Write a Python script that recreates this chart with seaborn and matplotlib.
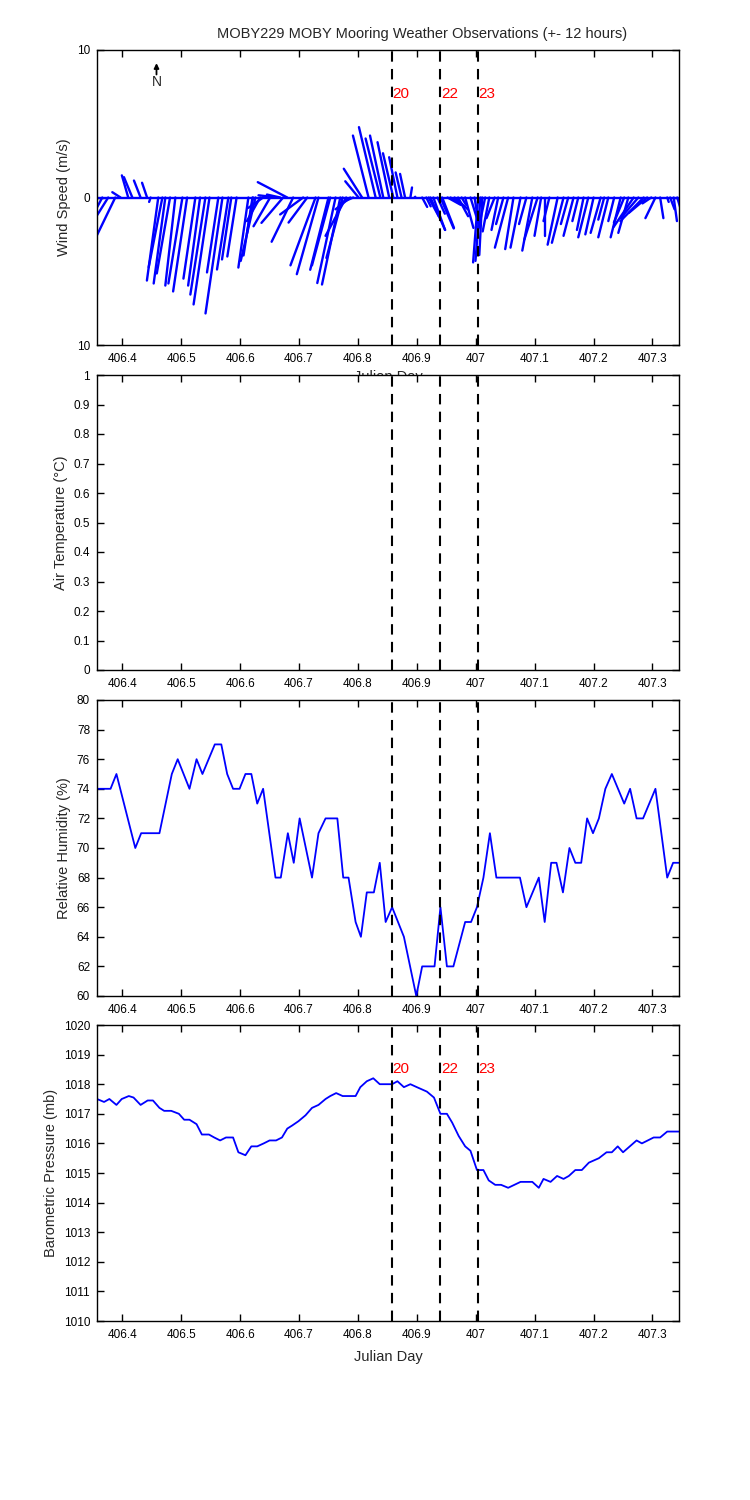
import numpy as np
import pandas as pd
import matplotlib
matplotlib.use("Agg")
import matplotlib.pyplot as plt
from matplotlib.ticker import FuncFormatter
import seaborn as sns

# ---------------- data ----------------
wind_time = [406.366, 406.376, 406.388, 406.397, 406.410, 406.417, 406.431, 406.442, 406.448,
             406.461, 406.468, 406.473, 406.481, 406.490, 406.502, 406.510, 406.524, 406.532,
             406.541, 406.548, 406.563, 406.570, 406.580, 406.585, 406.594, 406.614, 406.621,
             406.622, 406.626, 406.634, 406.639, 406.651, 406.663, 406.668, 406.673, 406.680,
             406.690, 406.707, 406.714, 406.728, 406.733, 406.750, 406.753, 406.762, 406.770,
             406.774, 406.780, 406.787, 406.792, 406.801, 406.807, 406.818, 406.830, 406.838,
             406.843, 406.853, 406.860, 406.867, 406.874, 406.880, 406.889, 406.896, 406.909,
             406.916, 406.920, 406.923, 406.928, 406.935, 406.940, 406.943, 406.952, 406.957,
             406.964, 406.970, 406.976, 406.982, 406.991, 406.998, 407.004, 407.008, 407.011,
             407.016, 407.023, 407.032, 407.038, 407.047, 407.055, 407.064, 407.076, 407.086,
             407.096, 407.105, 407.111, 407.118, 407.125, 407.139, 407.149, 407.157, 407.166,
             407.174, 407.183, 407.191, 407.200, 407.212, 407.218, 407.225, 407.235, 407.246,
             407.252, 407.259, 407.268, 407.276, 407.285, 407.291, 407.298, 407.305, 407.313,
             407.325, 407.330, 407.336, 407.342]
wind_u = [-0.8, -1.0, -1.6, -0.56, -0.43, -0.57, -0.45, -0.34, -0.1,
          -0.77, -0.93, -0.79, -0.9, -0.68, -0.95, -0.95, -0.81, -0.81,
          -1.02, -1.08, -0.77, -1.15, -0.77, -0.63, -0.63, -0.68, -0.61,
          -0.42, -1.0, -0.9, -1.0, -1.13, -1.27, -0.9, -1.47, -2.0,
          -1.46, -1.56, -1.27, -1.7, -1.47, -1.24, -1.24, -1.24, -1.24,
          -1.1, -1.4, -1.0, -0.9, -0.9, -1.24, -1.06, -1.13, -1.0,
          -0.9, -0.79, -0.7, -0.56, -0.4, -0.34, 0.11, 0.05, 0.34,
          0.3, 0.68, 1.0, 0.79, 0.5, 0.9, 0.8, 0.9, 0.7,
          0.9, 0.68, 0.3, 0.56, 0.56, 0.3, -0.34, -0.34, -0.2,
          -0.45, -0.45, -0.55, -0.45, -0.5, -0.9, -0.56, -0.68, -0.5,
          -0.68, -0.9, -0.45, 0.0, -0.4, -0.68, -0.79, -0.5, -0.68,
          -0.4, -0.45, -0.68, -0.56, -0.68, -0.4, -0.68, -0.4, -0.68,
          -0.7, -0.68, -1.36, -1.2, -1.58, -1.24, -0.6, -0.68, 0.22,
          0.1, 0.3, 0.22, 0.3]
wind_v = [-1.5, -1.6, -3.3, 0.36, 1.5, 1.38, 1.15, 1.0, -0.3,
          -5.63, -4.73, -5.83, -5.15, -5.97, -5.83, -6.37, -5.5, -5.97,
          -6.58, -7.25, -5.08, -7.86, -4.88, -4.2, -4.0, -4.75, -3.93,
          -2.44, -4.3, -1.6, -0.7, -1.95, 0.15, 0.2, -1.72, 1.04,
          -3.0, -1.15, -1.7, -4.6, -5.2, -4.9, -4.6, -5.8, -5.9,
          -4.1, -2.6, -0.8, -0.4, 1.1, 1.95, 4.2, 4.77, 4.0,
          4.2, 3.75, 3.0, 2.73, 1.7, 1.6, 0.68, 0.05, -0.64,
          -0.6, -1.27, -2.2, -2.2, -1.1, -2.1, -2.06, -0.5, -0.4,
          -0.8, -1.27, -0.5, -2.06, -1.8, -2.0, -4.4, -4.3, -3.9,
          -2.1, -2.3, -1.4, -2.2, -1.8, -3.4, -3.5, -3.4, -1.8,
          -3.6, -2.85, -2.6, -2.6, -1.6, -3.2, -3.07, -1.8, -2.6,
          -1.6, -2.2, -2.7, -2.5, -2.4, -1.5, -2.7, -1.6, -2.7,
          -1.7, -2.4, -2.0, -1.4, -1.6, -1.04, -0.4, -1.4, -1.4,
          -0.3, -0.8, -1.6, -1.0]

rh_time = [406.357, 406.380, 406.390, 406.422, 406.432, 406.463, 406.484, 406.494, 406.514,
           406.526, 406.536, 406.557, 406.568, 406.578, 406.588, 406.599, 406.609, 406.619,
           406.629, 406.639, 406.660, 406.669, 406.681, 406.691, 406.701, 406.722, 406.733,
           406.745, 406.765, 406.775, 406.784, 406.796, 406.805, 406.815, 406.827, 406.837,
           406.847, 406.858, 406.878, 406.899, 406.909, 406.930, 406.940, 406.951, 406.962,
           406.982, 406.992, 407.002, 407.013, 407.024, 407.035, 407.075, 407.086, 407.107,
           407.117, 407.128, 407.137, 407.148, 407.159, 407.169, 407.179, 407.189, 407.199,
           407.209, 407.220, 407.231, 407.252, 407.262, 407.273, 407.284, 407.305, 407.325,
           407.335, 407.346]
rh_vals = [74, 74, 75, 70, 71, 71, 75, 76, 74,
           76, 75, 77, 77, 75, 74, 74, 75, 75,
           73, 74, 68, 68, 71, 69, 72, 68, 71,
           72, 72, 68, 68, 65, 64, 67, 67, 69,
           65, 66, 64, 60, 62, 62, 66, 62, 62,
           65, 65, 66, 68, 71, 68, 68, 66, 68,
           65, 69, 69, 67, 70, 69, 69, 72, 71,
           72, 74, 75, 73, 74, 72, 72, 74, 68,
           69, 69]

bp_time = [406.357, 406.369, 406.378, 406.390, 406.399, 406.411, 406.419, 406.431, 406.443,
           406.452, 406.463, 406.471, 406.483, 406.496, 406.505, 406.514, 406.526, 406.535,
           406.547, 406.556, 406.566, 406.576, 406.588, 406.597, 406.609, 406.619, 406.629,
           406.640, 406.650, 406.661, 406.671, 406.680, 406.688, 406.699, 406.711, 406.722,
           406.733, 406.745, 406.753, 406.763, 406.774, 406.796, 406.804, 406.815, 406.826,
           406.837, 406.858, 406.867, 406.878, 406.889, 406.900, 406.917, 406.929, 406.940,
           406.951, 406.960, 406.971, 406.982, 406.991, 407.002, 407.013, 407.022, 407.033,
           407.043, 407.055, 407.076, 407.096, 407.107, 407.115, 407.127, 407.138, 407.149,
           407.158, 407.169, 407.180, 407.192, 407.209, 407.222, 407.231, 407.241, 407.250,
           407.273, 407.282, 407.302, 407.313, 407.325, 407.346]
bp_vals = [1017.5, 1017.4, 1017.5, 1017.3, 1017.5, 1017.6, 1017.55, 1017.3, 1017.45,
           1017.45, 1017.2, 1017.1, 1017.1, 1017.0, 1016.8, 1016.8, 1016.65, 1016.3,
           1016.3, 1016.2, 1016.1, 1016.2, 1016.2, 1015.7, 1015.6, 1015.9, 1015.9,
           1016.0, 1016.1, 1016.1, 1016.2, 1016.5, 1016.6, 1016.75, 1016.95, 1017.2,
           1017.3, 1017.5, 1017.6, 1017.7, 1017.6, 1017.6, 1017.9, 1018.1, 1018.2,
           1018.0, 1018.0, 1018.1, 1017.9, 1018.0, 1017.9, 1017.75, 1017.55, 1017.0,
           1017.0, 1016.7, 1016.25, 1015.9, 1015.75, 1015.1, 1015.1, 1014.75, 1014.6,
           1014.6, 1014.5, 1014.7, 1014.7, 1014.5, 1014.8, 1014.7, 1014.9, 1014.8,
           1014.9, 1015.1, 1015.1, 1015.35, 1015.5, 1015.7, 1015.7, 1015.9, 1015.7,
           1016.1, 1016.0, 1016.2, 1016.2, 1016.4, 1016.4]

event_time = [406.857, 406.940, 407.003]
event_label = ["20", "22", "23"]

xlim = (406.357, 407.345)
xticks = [406.4, 406.5, 406.6, 406.7, 406.8, 406.9, 407.0, 407.1, 407.2, 407.3]

# ---------------- style ----------------
sns.set_theme(style="ticks")
plt.rcParams.update({
    "font.family": ["Liberation Sans", "DejaVu Sans"],
    "font.size": 8.5,
    "xtick.direction": "in", "ytick.direction": "in",
    "xtick.top": True, "ytick.right": True,
    "xtick.major.size": 5, "ytick.major.size": 5,
    "xtick.major.width": 1, "ytick.major.width": 1,
    "xtick.labelsize": 8.5, "ytick.labelsize": 8.5,
    "axes.edgecolor": "black", "axes.linewidth": 1.0,
    "xtick.color": "black", "ytick.color": "black",
})

W, H = 7.5, 15.0
fig = plt.figure(figsize=(W, H), dpi=100)
left, width = 97 / 750, 582 / 750
rects = [(50, 345), (375, 670), (700, 996), (1025, 1321)]
axes = [fig.add_axes([left, 1 - b / 1500, width, (b - t) / 1500]) for t, b in rects]

blue = "#0000ff"

def common(ax):
    ax.set_xlim(*xlim)
    ax.set_xticks(xticks)
    ax.xaxis.set_major_formatter(FuncFormatter(lambda v, p: f"{v:g}"))
    for s in ax.spines.values():
        s.set_visible(True)
        s.set_color("black")
    for t in event_time:
        ax.axvline(t, color="black", lw=1.5, ls=(0, (5, 3.5)), zorder=4)
    ax.tick_params(axis="x", which="both", pad=6)
    ax.tick_params(axis="y", which="both", pad=5)

# ---- Panel 1: wind sticks ----
ax = axes[0]
ylim1 = (-10, 10)
ax_w_in = width * W
ax_h_in = (345 - 50) / 1500 * H
k = ((xlim[1] - xlim[0]) / ax_w_in) / ((ylim1[1] - ylim1[0]) / ax_h_in)
rows = []
for i, (t, u, v) in enumerate(zip(wind_time, wind_u, wind_v)):
    rows.append({"x": t, "y": 0.0, "id": i})
    rows.append({"x": t + u * k, "y": v, "id": i})
stick_df = pd.DataFrame(rows)
sns.lineplot(data=stick_df, x="x", y="y", units="id", estimator=None, sort=False,
             color=blue, lw=1.7, ax=ax, legend=False)
ax.axhline(0, color=blue, lw=1.7)
ax.set_ylim(*ylim1)
ax.set_yticks([-10, 0, 10])
ax.yaxis.set_major_formatter(FuncFormatter(lambda v, p: f"{abs(v):g}"))
ax.set_ylabel("Wind Speed (m/s)", fontsize=10.5)
ax.set_xlabel("Julian Day", fontsize=10.5, labelpad=3)
ax.annotate("", xy=(406.458, 9.3), xytext=(406.458, 8.15),
            arrowprops=dict(arrowstyle="-|>", color="black", lw=1.3, mutation_scale=7))
ax.text(406.458, 7.8, "N", ha="center", va="center", fontsize=10)
common(ax)
for t, lab in zip(event_time, event_label):
    ax.text(t + 0.002, 7.0, lab, color="red", fontsize=11, ha="left", va="center", zorder=5)

# ---- Panel 2: air temperature (empty) ----
ax = axes[1]
ax.set_ylim(0, 1)
ax.set_yticks(np.round(np.arange(0, 1.01, 0.1), 1))
ax.yaxis.set_major_formatter(FuncFormatter(lambda v, p: f"{v:g}"))
ax.set_ylabel("Air Temperature (\u00b0C)", fontsize=10.5)
ax.set_xlabel("")
common(ax)

# ---- Panel 3: relative humidity ----
ax = axes[2]
rh_df = pd.DataFrame({"t": rh_time, "rh": rh_vals})
sns.lineplot(data=rh_df, x="t", y="rh", color=blue, lw=1.3, ax=ax, estimator=None)
ax.set_ylim(60, 80)
ax.set_yticks(range(60, 81, 2))
ax.set_ylabel("Relative Humidity (%)", fontsize=10.5)
ax.set_xlabel("")
common(ax)

# ---- Panel 4: barometric pressure ----
ax = axes[3]
bp_df = pd.DataFrame({"t": bp_time, "bp": bp_vals})
sns.lineplot(data=bp_df, x="t", y="bp", color=blue, lw=1.3, ax=ax, estimator=None)
ax.set_ylim(1010, 1020)
ax.set_yticks(range(1010, 1021, 1))
ax.set_ylabel("Barometric Pressure (mb)", fontsize=10.5)
ax.set_xlabel("Julian Day", fontsize=10.5, labelpad=6)
common(ax)
for t, lab in zip(event_time, event_label):
    ax.text(t + 0.002, 1018.5, lab, color="red", fontsize=11, ha="left", va="center", zorder=5)

fig.text(422 / 750, 1 - 34 / 1500, "MOBY229 MOBY Mooring Weather Observations (+- 12 hours)",
         ha="center", va="center", fontsize=10.5)

fig.savefig("out.png", dpi=100, facecolor="white")
